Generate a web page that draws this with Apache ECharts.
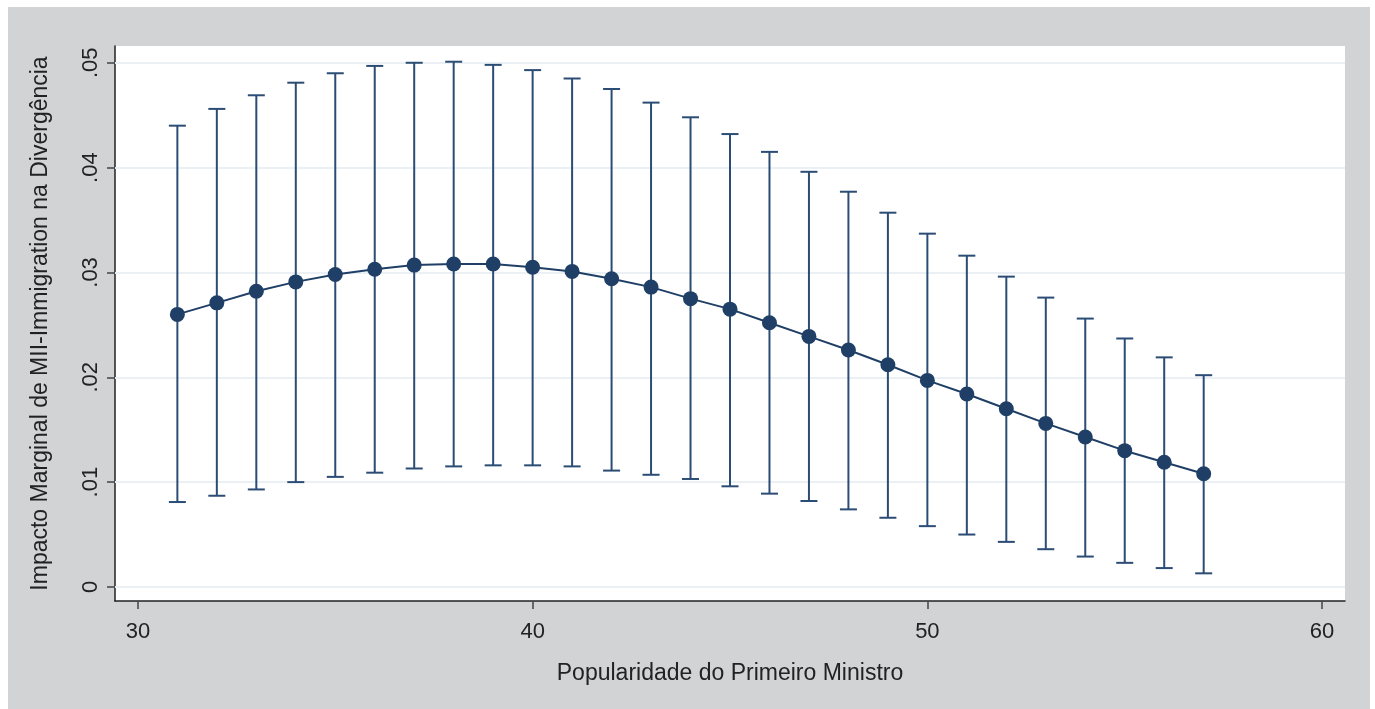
<!DOCTYPE html>
<html>
<head>
<meta charset="utf-8">
<script src="https://cdn.jsdelivr.net/npm/echarts@6/dist/echarts.min.js"></script>
<style>
html,body{margin:0;padding:0;background:#ffffff;width:1375px;height:709px;overflow:hidden;}
#chart{position:absolute;left:8px;top:7px;width:1362px;height:702px;background:#d2d3d5;}
</style>
</head>
<body>
<div id="chart"></div>
<script>
const popularity = [31,32,33,34,35,36,37,38,39,40,41,42,43,44,45,46,47,48,49,50,51,52,53,54,55,56,57];
const marginalEffect = [0.0260,0.0271,0.0282,0.0291,0.0298,0.0303,0.0307,0.0308,0.0308,0.0305,0.0301,0.0294,0.0286,0.0275,0.0265,0.0252,0.0239,0.0226,0.0212,0.0197,0.0184,0.0170,0.0156,0.0143,0.0130,0.0119,0.0108];
const upperCI = [0.0440,0.0456,0.0469,0.0481,0.0490,0.0497,0.0500,0.0501,0.0498,0.0493,0.0485,0.0475,0.0462,0.0448,0.0432,0.0415,0.0396,0.0377,0.0357,0.0337,0.0316,0.0296,0.0276,0.0256,0.0237,0.0219,0.0202];
const lowerCI = [0.0081,0.0087,0.0093,0.0100,0.0105,0.0109,0.0113,0.0115,0.0116,0.0116,0.0115,0.0111,0.0107,0.0103,0.0096,0.0089,0.0082,0.0074,0.0066,0.0058,0.0050,0.0043,0.0036,0.0029,0.0023,0.0018,0.0013];
const xTicks = [30,40,50,60];
const yTicks = [0,0.01,0.02,0.03,0.04,0.05];
const xTitle = 'Popularidade do Primeiro Ministro';
const yTitle = 'Impacto Marginal de MII-Immigration na Divergência';

const navy = '#1f3f66';
const barColor = '#2b4c74';
const font = 'Liberation Sans, Arial, Helvetica, sans-serif';

const ciData = popularity.map((x,i)=>[x, lowerCI[i], upperCI[i]]);
const pointData = popularity.map((x,i)=>[x, marginalEffect[i]]);

const chart = echarts.init(document.getElementById('chart'));
chart.setOption({
  animation:false,
  backgroundColor:'#d2d3d5',
  textStyle:{fontFamily:font},
  grid:{left:107,right:25,top:39,bottom:108,show:true,backgroundColor:'#ffffff',borderWidth:0},
  xAxis:{
    type:'value', min:29.42, max:60.58,
    name:xTitle, nameLocation:'middle', nameGap:61,
    nameTextStyle:{fontSize:23,color:'#222',fontFamily:font},
    axisLine:{show:true,onZero:false,lineStyle:{color:'#222',width:1.5}},
    axisTick:{show:true,length:8,customValues:xTicks,lineStyle:{color:'#444',width:1.5}},
    axisLabel:{customValues:xTicks,fontSize:22,color:'#222',margin:20,fontFamily:font},
    splitLine:{show:false}
  },
  yAxis:{
    type:'value', min:-0.00134, max:0.0516,
    name:yTitle, nameLocation:'middle', nameRotate:90, nameGap:63,
    nameTextStyle:{fontSize:23,color:'#222',fontFamily:font},
    axisLine:{show:true,onZero:false,lineStyle:{color:'#222',width:1.5}},
    axisTick:{show:true,length:8,customValues:yTicks,lineStyle:{color:'#444',width:1.5}},
    axisLabel:{customValues:yTicks,rotate:90,fontSize:22,color:'#222',margin:13,fontFamily:font,
      formatter:v=> (Math.abs(v)<1e-9 ? '0' : v.toFixed(2).replace(/^0/,''))},
    splitLine:{show:false}
  },
  series:[
    {
      type:'custom',
      data:ciData,
      z:2,
      renderItem:(params,api)=>{
        const x = api.value(0);
        const lo = api.coord([x, api.value(1)]);
        const hi = api.coord([x, api.value(2)]);
        const hw = 8.5;
        const st = {stroke:barColor,lineWidth:2,fill:null};
        return {type:'group',children:[
          {type:'line',shape:{x1:lo[0],y1:lo[1],x2:hi[0],y2:hi[1]},style:st},
          {type:'line',shape:{x1:lo[0]-hw,y1:lo[1],x2:lo[0]+hw,y2:lo[1]},style:st},
          {type:'line',shape:{x1:hi[0]-hw,y1:hi[1],x2:hi[0]+hw,y2:hi[1]},style:st}
        ]};
      }
    },
    {
      type:'line',
      data:pointData,
      z:3,
      symbol:'circle', symbolSize:15,
      itemStyle:{color:navy},
      lineStyle:{color:navy,width:2},
      markLine:{
        silent:true, symbol:'none', label:{show:false}, z:1,
        lineStyle:{color:'#eaf0f4',width:2,type:'solid'},
        data:yTicks.map(v=>({yAxis:v}))
      }
    }
  ]
});
</script>
</body>
</html>
